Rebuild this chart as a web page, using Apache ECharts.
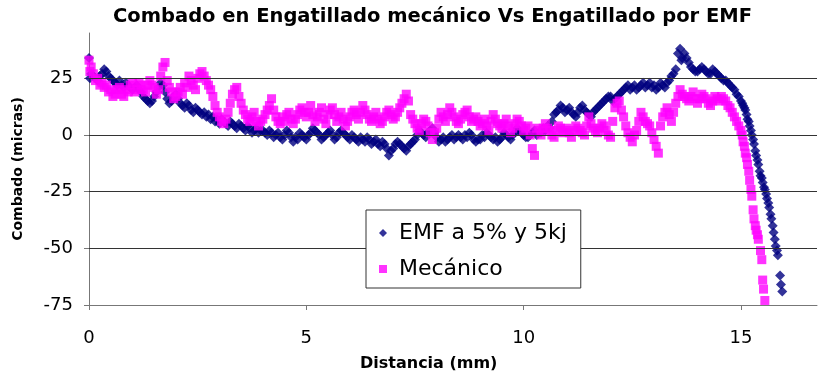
<!DOCTYPE html>
<html>
<head>
<meta charset="utf-8">
<script src="https://cdn.jsdelivr.net/npm/echarts@6/dist/echarts.min.js"></script>
<style>
  html, body { margin: 0; padding: 0; background: #fff; }
  #chart { width: 818px; height: 374px; }
  #err { position: absolute; left: 100px; top: 40px; font: 11px monospace; color: red; }
</style>
</head>
<body>
<div id="chart"></div>
<div id="err"></div>
<script>
window.onerror = function (m) { document.getElementById('err').textContent += ' ' + m; };

// [distancia mm, combado micras]
var emfData = [
  [0,34],[0.02,25],[0.05,27],[0.1,26],[0.15,25],[0.2,24],[0.25,26],[0.3,27],[0.35,29],[0.4,28],[0.45,26],
  [0.5,25],[0.55,24],[0.6,23],[0.65,22],[0.7,24],[0.75,22],[0.8,21],[0.85,23],[0.9,22],[0.95,21],
  [1.0,20],[1.05,21],[1.1,22],[1.15,20],[1.2,19],[1.25,17],[1.3,16],[1.35,15],[1.4,14],[1.45,15],
  [1.5,17],[1.55,19],[1.6,21],[1.65,23],[1.7,22],[1.75,19],[1.8,16],[1.85,14],[1.9,15],[1.95,17],
  [2.0,18],[2.05,16],[2.1,14],[2.15,13],[2.2,12],[2.25,14],[2.3,13],[2.35,11],[2.4,10],[2.45,12],
  [2.5,11],[2.55,10],[2.6,9],[2.65,10],[2.7,8],[2.75,9],[2.8,7],[2.85,8],[2.9,6],[2.95,7],
  [3.0,5],[3.05,7],[3.1,6],[3.15,5],[3.2,4],[3.25,6],[3.3,5],[3.35,4],[3.4,3],[3.45,5],
  [3.5,4],[3.55,3],[3.6,2],[3.65,4],[3.7,3],[3.75,1],[3.8,2],[3.85,3],[3.9,1],[3.95,2],
  [4.0,2],[4.05,1],[4.1,0],[4.15,2],[4.2,1],[4.25,-1],[4.3,0],[4.35,1],[4.4,-1],[4.45,-2],
  [4.5,0],[4.55,2],[4.6,1],[4.65,-1],[4.7,-3],[4.75,-1],[4.8,-2],[4.85,1],[4.9,0],[4.95,-1],
  [5.0,-2],[5.05,0],[5.1,1],[5.15,3],[5.2,2],[5.25,1],[5.3,0],[5.35,-2],[5.4,-1],[5.45,0],
  [5.5,1],[5.55,2],[5.6,0],[5.65,-2],[5.7,-1],[5.75,1],[5.8,2],[5.85,1],[5.9,0],[5.95,-1],
  [6.0,-2],[6.05,0],[6.1,-1],[6.15,-2],[6.2,-3],[6.25,-1],[6.3,-2],[6.35,-3],[6.4,-1],[6.45,-2],
  [6.5,-4],[6.55,-3],[6.6,-2],[6.65,-4],[6.7,-5],[6.75,-3],[6.8,-4],[6.85,-6],[6.9,-9],[6.95,-7],
  [7.0,-6],[7.05,-4],[7.1,-3],[7.15,-4],[7.2,-5],[7.25,-6],[7.3,-7],[7.35,-5],[7.4,-4],[7.45,-3],
  [7.5,-2],[7.55,0],[7.6,2],[7.65,1],[7.7,0],[7.75,-1],[7.8,1],[7.85,2],[7.9,3],[7.95,1],
  [8.0,-1],[8.05,-3],[8.1,-2],[8.15,-1],[8.2,-3],[8.25,-2],[8.3,-1],[8.35,0],[8.4,-2],[8.45,-1],
  [8.5,0],[8.55,-1],[8.6,-2],[8.65,0],[8.7,-1],[8.75,1],[8.8,0],[8.85,-2],[8.9,-3],[8.95,-2],
  [9.0,-2],[9.05,0],[9.1,-1],[9.15,1],[9.2,0],[9.25,-1],[9.3,-2],[9.35,-1],[9.4,-3],[9.45,-2],
  [9.5,-1],[9.55,1],[9.6,0],[9.65,-1],[9.7,-2],[9.75,0],[9.8,1],[9.85,3],[9.9,2],[9.95,1],
  [10.0,0],[10.05,-1],[10.1,-1],[10.15,0],[10.2,1],[10.25,2],[10.3,0],[10.35,1],[10.4,1],[10.45,3],
  [10.5,2],[10.55,4],[10.6,3],[10.65,6],[10.7,9],[10.75,10],[10.8,11],[10.85,13],[10.9,12],[10.95,10],
  [11.0,11],[11.05,12],[11.1,10],[11.15,9],[11.2,8],[11.25,10],[11.3,12],[11.35,13],[11.4,11],[11.45,10],
  [11.5,9],[11.55,8],[11.6,10],[11.65,11],[11.7,12],[11.75,13],[11.8,14],[11.85,15],[11.9,16],[11.95,17],
  [12.0,17],[12.05,15],[12.1,16],[12.15,17],[12.2,18],[12.25,19],[12.3,20],[12.35,21],[12.4,22],[12.45,20],
  [12.5,21],[12.55,22],[12.6,20],[12.65,21],[12.7,22],[12.75,23],[12.8,21],[12.85,22],[12.9,23],[12.95,21],
  [13.0,22],[13.05,20],[13.1,21],[13.15,23],[13.2,22],[13.25,21],[13.3,23],[13.35,24],[13.4,26],[13.45,27],
  [13.5,29],[13.55,36],[13.6,38],[13.63,33],[13.65,34],[13.7,36],[13.75,34],[13.8,32],[13.85,30],[13.9,29],
  [13.95,28],[14.0,28],[14.05,29],[14.1,30],[14.15,29],[14.2,28],[14.25,27],[14.3,27],[14.35,29],[14.4,28],
  [14.45,27],[14.5,26],[14.55,25],[14.6,24],[14.65,24],[14.7,23],[14.75,22],[14.8,21],[14.85,20],[14.9,18],
  [14.95,17],[15.0,15],[15.03,14],[15.05,13],[15.08,12],[15.1,11],[15.13,9],[15.15,7],[15.18,6],[15.2,4],
  [15.23,2],[15.25,0],[15.28,-2],[15.3,-4],[15.33,-7],[15.35,-9],[15.38,-11],[15.4,-13],[15.43,-16],[15.45,-18],
  [15.48,-19],[15.5,-21],[15.53,-23],[15.55,-24],[15.58,-26],[15.6,-28],[15.63,-30],[15.65,-32],[15.68,-35],
  [15.7,-37],[15.73,-40],[15.75,-43],[15.78,-46],[15.8,-49],[15.83,-51],[15.85,-53],[15.9,-62],[15.92,-66],[15.95,-69]
];

var mecData = [
  [0,33],[0.02,28],[0.05,30],[0.1,27],[0.15,24],[0.2,25],[0.25,22],[0.3,23],[0.35,21],[0.4,22],[0.45,19],
  [0.5,20],[0.55,17],[0.6,18],[0.65,20],[0.7,21],[0.75,18],[0.8,17],[0.85,20],[0.9,19],[0.95,22],
  [1.0,23],[1.05,19],[1.1,20],[1.15,23],[1.2,22],[1.25,20],[1.3,19],[1.35,22],[1.4,24],[1.45,22],
  [1.5,21],[1.55,18],[1.6,20],[1.65,26],[1.7,30],[1.75,32],[1.8,24],[1.85,21],[1.9,19],[1.95,16],
  [2.0,17],[2.05,19],[2.1,21],[2.15,18],[2.2,23],[2.25,21],[2.3,26],[2.35,24],[2.4,22],[2.45,20],
  [2.5,25],[2.55,27],[2.6,28],[2.65,26],[2.7,24],[2.75,22],[2.8,20],[2.85,17],[2.9,13],[2.95,10],
  [3.0,8],[3.05,6],[3.1,5],[3.15,7],[3.2,10],[3.25,14],[3.3,18],[3.35,20],[3.4,21],[3.45,17],
  [3.5,14],[3.55,11],[3.6,9],[3.65,7],[3.7,6],[3.75,8],[3.8,10],[3.85,6],[3.9,4],[3.95,6],
  [4.0,7],[4.05,9],[4.1,11],[4.15,13],[4.2,16],[4.25,11],[4.3,8],[4.35,6],[4.4,5],[4.45,8],
  [4.5,6],[4.55,9],[4.6,10],[4.65,7],[4.7,5],[4.75,7],[4.8,9],[4.85,11],[4.9,12],[4.95,10],
  [5.0,8],[5.05,10],[5.1,13],[5.15,9],[5.2,6],[5.25,8],[5.3,10],[5.35,12],[5.4,7],[5.45,5],
  [5.5,9],[5.55,11],[5.6,12],[5.65,9],[5.7,6],[5.75,8],[5.8,10],[5.85,7],[5.9,4],[5.95,6],
  [6.0,8],[6.05,10],[6.1,11],[6.15,9],[6.2,7],[6.25,10],[6.3,13],[6.35,11],[6.4,9],[6.45,7],
  [6.5,6],[6.55,8],[6.6,10],[6.65,7],[6.7,5],[6.75,6],[6.8,8],[6.85,10],[6.9,11],[6.95,9],
  [7.0,7],[7.05,8],[7.1,10],[7.15,12],[7.2,14],[7.25,16],[7.3,18],[7.35,15],[7.4,9],[7.45,7],
  [7.5,5],[7.55,3],[7.6,2],[7.65,5],[7.7,7],[7.75,6],[7.8,4],[7.85,1],[7.9,-2],[7.95,1],
  [8.0,3],[8.05,7],[8.1,10],[8.15,8],[8.2,6],[8.25,9],[8.3,12],[8.35,10],[8.4,8],[8.45,6],
  [8.5,5],[8.55,7],[8.6,9],[8.65,10],[8.7,11],[8.75,8],[8.8,6],[8.85,7],[8.9,8],[8.95,6],
  [9.0,4],[9.05,5],[9.1,7],[9.15,4],[9.2,2],[9.25,6],[9.3,9],[9.35,7],[9.4,5],[9.45,4],
  [9.5,3],[9.55,5],[9.6,7],[9.65,4],[9.7,1],[9.75,3],[9.8,5],[9.85,7],[9.9,6],[9.95,4],
  [10.0,2],[10.05,3],[10.1,4],[10.15,0],[10.2,-6],[10.25,-9],[10.3,3],[10.35,2],[10.4,0],[10.45,3],
  [10.5,5],[10.55,3],[10.6,2],[10.65,0],[10.7,-1],[10.75,2],[10.8,4],[10.85,3],[10.9,1],[10.95,2],
  [11.0,3],[11.05,1],[11.1,-1],[11.15,2],[11.2,4],[11.25,3],[11.3,2],[11.35,1],[11.4,0],[11.45,4],
  [11.5,8],[11.55,5],[11.6,3],[11.65,2],[11.7,1],[11.75,3],[11.8,5],[11.85,4],[11.9,2],[11.95,0],
  [12.0,-1],[12.05,6],[12.1,12],[12.15,14],[12.2,15],[12.25,11],[12.3,8],[12.35,4],[12.4,1],[12.45,-1],
  [12.5,-3],[12.55,0],[12.6,2],[12.65,6],[12.7,10],[12.75,8],[12.8,6],[12.85,5],[12.9,4],[12.95,1],
  [13.0,-2],[13.05,-5],[13.1,-8],[13.15,4],[13.2,8],[13.25,10],[13.3,12],[13.35,9],[13.4,6],[13.45,10],
  [13.5,14],[13.55,17],[13.6,20],[13.65,18],[13.7,17],[13.75,16],[13.8,15],[13.85,17],[13.9,19],[13.95,16],
  [14.0,14],[14.05,16],[14.1,18],[14.15,17],[14.2,16],[14.25,14],[14.3,13],[14.35,15],[14.4,17],[14.45,16],
  [14.5,15],[14.55,17],[14.6,16],[14.65,15],[14.7,13],[14.75,12],[14.8,10],[14.85,8],[14.9,6],[14.95,4],
  [15.0,2],[15.03,0],[15.05,-3],[15.08,-5],[15.1,-8],[15.13,-10],[15.15,-13],[15.18,-16],[15.2,-20],[15.23,-24],
  [15.25,-27],[15.28,-33],[15.3,-37],[15.33,-40],[15.35,-42],[15.38,-44],[15.4,-46],[15.45,-51],[15.48,-55],
  [15.5,-64],[15.52,-68],[15.55,-73]
];

var gridValues = [25, 0, -25, -50];

var font = 'DejaVu Sans';
var chart = echarts.init(document.getElementById('chart'));

var option = {
  animation: false,
  title: {
    text: 'Combado en Engatillado mecánico Vs Engatillado por EMF',
    left: 113,
    top: 7,
    padding: 0,
    textStyle: { fontFamily: font, fontSize: 19.5, fontWeight: 'bold', color: '#000' }
  },
  legend: {
    orient: 'vertical',
    left: 366,
    top: 210,
    padding: [12, 14, 8, 13],
    itemGap: 14,
    itemWidth: 8,
    itemHeight: 8,
    backgroundColor: '#fff',
    borderColor: '#333',
    borderWidth: 1,
    borderRadius: 0,
    z: 10,
    textStyle: { fontFamily: font, fontSize: 22, color: '#000', padding: [0, 0, 0, 7] },
    data: [
      { name: 'EMF a 5% y 5kj', icon: 'diamond' },
      { name: 'Mecánico', icon: 'rect' }
    ]
  },
  graphic: [{
    type: 'text',
    left: 360,
    top: 356,
    style: { text: 'Distancia (mm)', fontFamily: font, fontSize: 16, fontWeight: 'bold', fill: '#000' }
  }],
  grid: { left: 89, right: 1, top: 33, bottom: 69 },
  xAxis: {
    type: 'value',
    min: 0,
    max: 16.75,
    interval: 5,
    axisLine: { onZero: false, lineStyle: { color: '#777', width: 1 } },
    axisTick: { inside: false, length: 5, lineStyle: { color: '#777' } },
    axisLabel: { showMaxLabel: false, margin: 24, fontFamily: font, fontSize: 18, color: '#000' },
    splitLine: { show: false }
  },
  yAxis: {
    type: 'value',
    min: -75,
    max: 45,
    interval: 25,
    name: 'Combado (micras)',
    nameLocation: 'middle',
    nameGap: 64,
    nameTextStyle: { fontFamily: font, fontSize: 14, fontWeight: 'bold', color: '#000' },
    axisLine: { show: true, lineStyle: { color: '#777', width: 1 } },
    axisTick: { show: true, inside: false, length: 5, lineStyle: { color: '#777' } },
    axisLabel: { showMaxLabel: false, margin: 16, fontFamily: font, fontSize: 18, color: '#000' },
    splitLine: { show: false }
  },
  series: [
    {
      name: 'EMF a 5% y 5kj',
      type: 'scatter',
      symbol: 'diamond',
      symbolSize: 10,
      itemStyle: { color: '#000080' },
      data: emfData,
      markLine: {
        silent: true,
        symbol: 'none',
        label: { show: false },
        lineStyle: { color: '#333', type: 'solid', width: 1 },
        emphasis: { disabled: true },
        data: gridValues.map(function (v) { return { yAxis: v }; })
      }
    },
    {
      name: 'Mecánico',
      type: 'scatter',
      symbol: 'rect',
      symbolSize: 9,
      itemStyle: { color: '#ff00ff' },
      data: mecData
    }
  ]
};
chart.setOption(option);
</script>
</body>
</html>
